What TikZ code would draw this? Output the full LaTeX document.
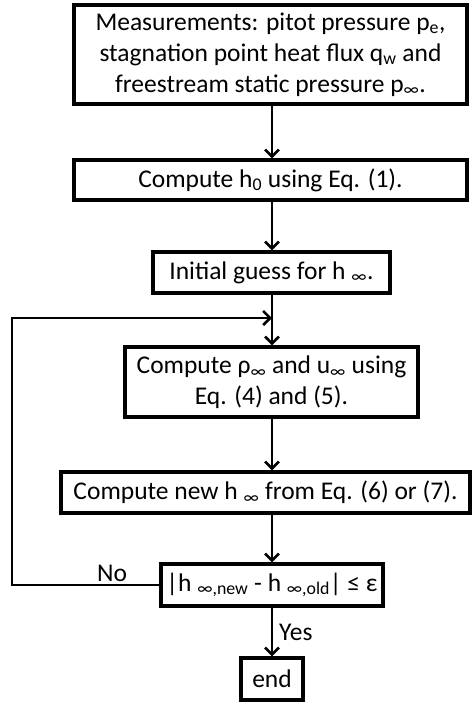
\documentclass[tikz,border=0pt]{standalone}
\usepackage{fontspec}
\setmainfont{Carlito}
\usetikzlibrary{arrows.meta}
\begin{document}
\begin{tikzpicture}[x=1pt,y=-1pt,
  box/.style={draw, line width=3.2pt, inner sep=0pt, align=center},
  arr/.style={line width=2.6pt, -{Straight Barb[length=7pt,width=14pt,line width=2.6pt]}},
  lbl/.style={inner sep=0pt},
  font=\fontsize{25.5}{31}\selectfont]
\useasboundingbox (0,0) rectangle (472,702);
\node[box, minimum width=393, minimum height=99] (m) at (270.5,54.5)
  {Measurements: pitot pressure p\textsubscript{e},\\
   stagnation point heat flux q\textsubscript{w} and\\
   freestream static pressure p\textsubscript{∞}.};
\node[box, minimum width=393, minimum height=40] (h0) at (270.5,180)
  {Compute h\textsubscript{0} using Eq. (1).};
\node[box, minimum width=237, minimum height=41] (g) at (271.5,272.5)
  {Initial guess for h \textsubscript{∞}.};
\node[box, minimum width=293, minimum height=70] (ru) at (271.5,382)
  {Compute ρ\textsubscript{∞} and u\textsubscript{∞} using\\ Eq. (4) and (5).};
\node[box, minimum width=409, minimum height=41] (nh) at (265.5,492.5)
  {Compute new h \textsubscript{∞} from Eq. (6) or (7).};
\node[box, minimum width=222, minimum height=42] (c) at (272,585)
  {|h \textsubscript{∞,new} - h \textsubscript{∞,old}| ≤ ε};
\node[box, minimum width=62, minimum height=42] (e) at (272,679) {end};
\coordinate (ax) at (272,0);
\coordinate (j) at (272,318);
\coordinate (lc) at (12,0);
\draw[arr] (m.south -| ax) -- (h0.north -| ax);
\draw[arr] (h0.south -| ax) -- (g.north -| ax);
\draw[arr] (g.south -| ax) -- (ru.north -| ax);
\draw[arr] (ru.south -| ax) -- (nh.north -| ax);
\draw[arr] (nh.south -| ax) -- (c.north -| ax);
\draw[arr] (c.south -| ax) -- (e.north -| ax);
\draw[arr, line join=miter] (c.west) -| (lc |- j) -- (j);
\node[lbl] (no) at (112,573) {No};
\node[lbl, anchor=west] (yes) at (279,632) {Yes};
\end{tikzpicture}
\end{document}
